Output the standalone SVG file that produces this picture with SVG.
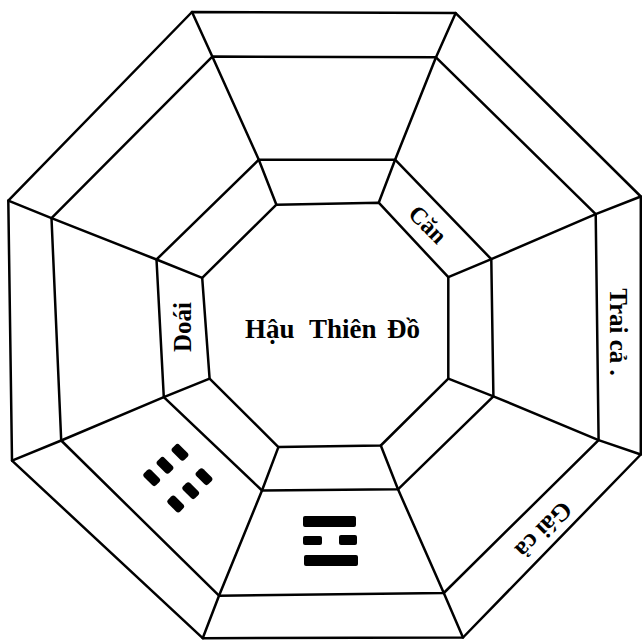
<svg xmlns="http://www.w3.org/2000/svg" width="642" height="640" viewBox="0 0 642 640">
<style>
.ln{fill:none;stroke:#000;stroke-width:2.5;stroke-linejoin:round;stroke-linecap:round}
.t{font-family:"Liberation Serif","Times New Roman",serif;font-weight:bold;fill:#000}
.bar{fill:#000}
</style>
<rect width="642" height="640" fill="#fff"/>
<g id="rings">
<polygon id="outer" class="ln" points="192,12 455.7,13.1 640.8,196.5 640.8,454.5 463,637.5 202.7,638.2 12,460.6 8.3,200.6"/>
<polygon id="middle" class="ln" points="212.3,56.6 436,57.3 595.7,214.1 598.6,440.1 443.8,593 219,595.7 61.2,440.5 51.5,218.2"/>
<polygon id="third" class="ln" points="258.8,159.7 395.1,159.7 491.3,259.2 493.4,396.3 398,489.3 262,490.5 163.8,397.2 156.5,259.5"/>
<polygon id="inner" class="ln" points="276.4,204.7 378.7,202.7 448.3,277.2 448.3,378.7 380.8,445.5 278.4,447.1 209.6,378.7 202.2,277.8"/>
</g>
<g id="connectors">
<polyline class="ln" points="192,12 212.3,56.6 258.8,159.7 276.4,204.7"/>
<polyline class="ln" points="455.7,13.1 436,57.3 395.1,159.7 378.7,202.7"/>
<polyline class="ln" points="640.8,196.5 595.7,214.1 491.3,259.2 448.3,277.2"/>
<polyline class="ln" points="640.8,454.5 598.6,440.1 493.4,396.3 448.3,378.7"/>
<polyline class="ln" points="463,637.5 443.8,593 398,489.3 380.8,445.5"/>
<polyline class="ln" points="202.7,638.2 219,595.7 262,490.5 278.4,447.1"/>
<polyline class="ln" points="12,460.6 61.2,440.5 163.8,397.2 209.6,378.7"/>
<polyline class="ln" points="8.3,200.6 51.5,218.2 156.5,259.5 202.2,277.8"/>
</g>
<g id="center-label">
<text class="t" font-size="27" y="338"><tspan x="245">Hậu</tspan><tspan x="309">Thiên</tspan><tspan x="387">Đồ</tspan></text>
</g>
<g id="doai">
<text class="t" font-size="25" text-anchor="middle" transform="translate(191,327) rotate(-90)">Doái</text>
</g>
<g id="can">
<text class="t" font-size="24" text-anchor="middle" transform="translate(422,230) rotate(45)">Căn</text>
</g>
<g id="trai-ca">
<text class="t" font-size="25" text-anchor="middle" transform="translate(610,332) rotate(90)">Trai cả .</text>
</g>
<g id="gai-ca">
<text class="t" font-size="25" text-anchor="middle" transform="translate(538,524) rotate(135)">Gái cả</text>
</g>
<g id="trigram-li">
<rect class="bar" x="303" y="516" width="53" height="11" rx="2"/>
<rect class="bar" x="303" y="536" width="19" height="9" rx="2"/>
<rect class="bar" x="339" y="535" width="18" height="10" rx="2"/>
<rect class="bar" x="304" y="555" width="54" height="11" rx="2"/>
</g>
<g id="trigram-kun">
<rect class="bar" x="-8.5" y="-5" width="17" height="10" rx="3" transform="translate(180,452.3) rotate(45)"/>
<rect class="bar" x="-8.5" y="-5" width="17" height="10" rx="3" transform="translate(204,476.7) rotate(45)"/>
<rect class="bar" x="-8.5" y="-5" width="17" height="10" rx="3" transform="translate(165,465.3) rotate(45)"/>
<rect class="bar" x="-8.5" y="-5" width="17" height="10" rx="3" transform="translate(190.7,490.7) rotate(45)"/>
<rect class="bar" x="-8.5" y="-5" width="17" height="10" rx="3" transform="translate(151.7,477.7) rotate(45)"/>
<rect class="bar" x="-8.5" y="-5" width="17" height="10" rx="3" transform="translate(175.7,504) rotate(45)"/>
</g>
</svg>
